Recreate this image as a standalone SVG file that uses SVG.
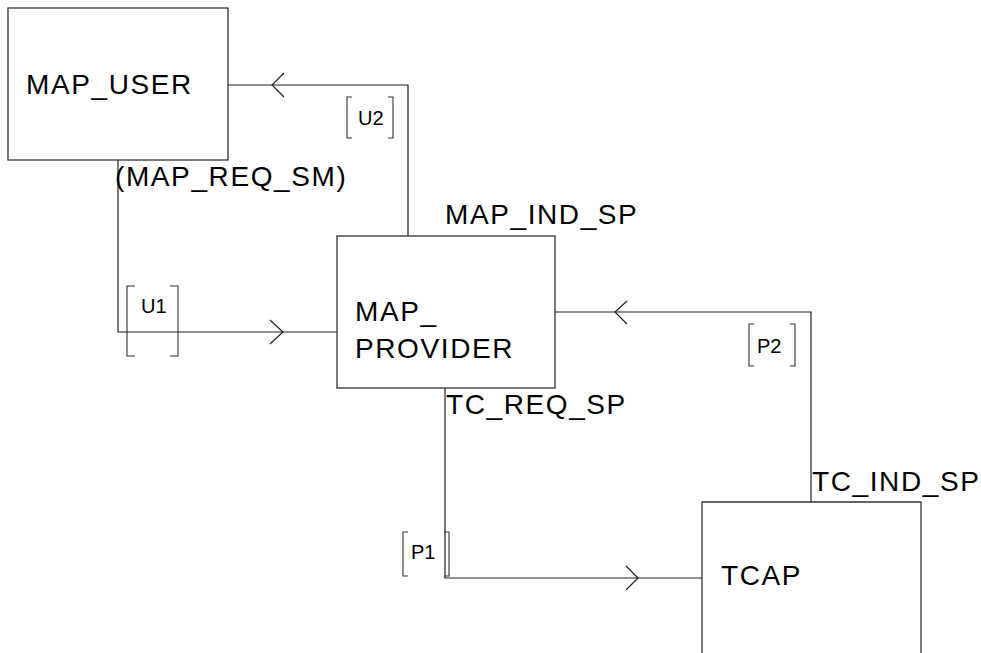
<svg xmlns="http://www.w3.org/2000/svg" width="981" height="653" viewBox="0 0 981 653">
<style>
.box{fill:#fff;stroke:#333;stroke-width:1.3}
.ln{fill:none;stroke:#222;stroke-width:1.2}
.br{fill:none;stroke:#333;stroke-width:1.1}
.t{font-family:"Liberation Sans",Arial,sans-serif;font-size:28px;letter-spacing:1.6px;fill:#000}
.s{font-family:"Liberation Sans",Arial,sans-serif;font-size:20px;fill:#000}
</style>
<rect width="981" height="653" fill="#fff"/>
<g id="connectors">
<path class="ln" d="M408,236 V85 H228"/>
<path class="ln" d="M284,73 L272,85 L284,97"/>
<path class="ln" d="M118,160 V332 H337"/>
<path class="ln" d="M270,320 L283,332 L270,344"/>
<path class="ln" d="M555,312 H811 V502"/>
<path class="ln" d="M627,301 L615,312 L627,324"/>
<path class="ln" d="M445,388 V578 H702"/>
<path class="ln" d="M626,566 L638,578 L626,590"/>
</g>
<g id="MAP_USER">
<rect class="box" x="8" y="8" width="220" height="152"/>
<text class="t" x="26" y="94">MAP_USER</text>
</g>
<g id="MAP_PROVIDER">
<rect class="box" x="337" y="236" width="218" height="152"/>
<text class="t" x="355" y="321">MAP_</text>
<text class="t" x="355" y="358">PROVIDER</text>
</g>
<g id="TCAP">
<path class="box" d="M702,660 V502 H921 V660"/>
<text class="t" x="721" y="585">TCAP</text>
</g>
<g id="labels">
<text class="t" x="115" y="186">(MAP_REQ_SM)</text>
<text class="t" x="445" y="224">MAP_IND_SP</text>
<text class="t" x="446" y="414">TC_REQ_SP</text>
<text class="t" x="812" y="491">TC_IND_SP</text>
</g>
<g id="U2">
<path class="br" d="M352,97 H347 V138 H352 M388,97 H393 V138 H388"/>
<text class="s" x="358" y="125">U2</text>
</g>
<g id="U1">
<path class="br" d="M135,286 H127 V356 H135 M170,286 H178 V356 H170"/>
<text class="s" x="141" y="313">U1</text>
</g>
<g id="P2">
<path class="br" d="M754,324 H749 V366 H754 M790,324 H795 V366 H790"/>
<text class="s" x="757" y="353">P2</text>
</g>
<g id="P1">
<path class="br" d="M408,532 H403 V576 H408 M444,532 H449 V576 H444"/>
<text class="s" x="411" y="559">P1</text>
</g>
</svg>
